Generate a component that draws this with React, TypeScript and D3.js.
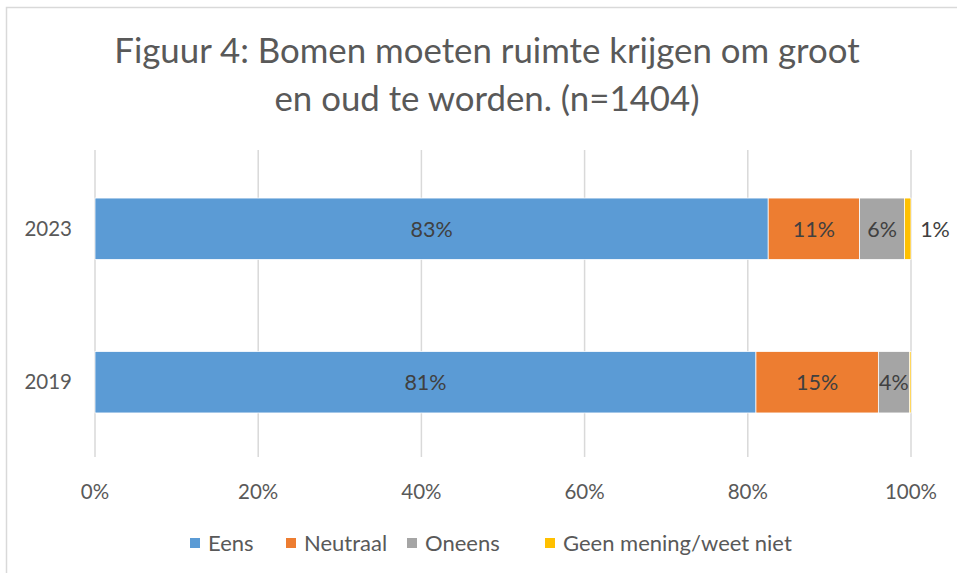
import React from "react";
import * as d3 from "d3";

const categories = ["2023", "2019"];
const seriesNames = ["Eens", "Neutraal", "Oneens", "Geen mening/weet niet"];
const eens = [82.5, 81.0];
const neutraal = [11.2, 15.0];
const oneens = [5.5, 3.8];
const geen = [0.8, 0.2];
const labelEens = ["83%", "81%"];
const labelNeutraal = ["11%", "15%"];
const labelOneens = ["6%", "4%"];
const labelGeen = ["1%", ""];
const xTicks = [0, 20, 40, 60, 80, 100];
const colors = ["#5B9BD5", "#ED7D31", "#A5A5A5", "#FFC000"];
const titleLines = ["Figuur 4: Bomen moeten ruimte krijgen om groot", "en oud te worden. (n=1404)"];

const W = 957;
const H = 573;
const FONT = "Lato, 'Open Sans', sans-serif";

export default function App() {
  const x = d3.scaleLinear().domain([0, 100]).range([95, 911]);
  const y = d3.scaleBand().domain(categories).range([152, 459]).paddingInner(0.6).paddingOuter(0.3);
  const values = [eens, neutraal, oneens, geen];
  const labels = [labelEens, labelNeutraal, labelOneens, labelGeen];

  const rows = categories.map((c, i) => {
    let acc = 0;
    return values.map((vals, s) => {
      const x0 = acc;
      acc += vals[i];
      return { c, s, x0, x1: acc, label: labels[s][i] };
    });
  });

  const legendItems = [
    { name: seriesNames[0], x: 195 },
    { name: seriesNames[1], x: 291 },
    { name: seriesNames[2], x: 412 },
    { name: seriesNames[3], x: 550 },
  ];

  return (
    <svg width={W} height={H} style={{ position: "absolute", left: 0, top: 0 }} fontFamily={FONT}>
      <rect x={0} y={0} width={W} height={H} fill="#fff" />
      <rect x={6.5} y={7.5} width={W} height={H} fill="none" stroke="#D9D9D9" strokeWidth={1.5} />
      {titleLines.map((t, i) => (
        <text key={i} x={487} y={63 + i * 48} textAnchor="middle" fontSize={34.8} fill="#595959">
          {t}
        </text>
      ))}
      {xTicks.map((t) => (
        <g key={t}>
          <line x1={x(t)} x2={x(t)} y1={150} y2={457} stroke="#D9D9D9" strokeWidth={1.5} />
          <text x={x(t)} y={499} textAnchor="middle" fontSize={20.5} fill="#595959">
            {t}%
          </text>
        </g>
      ))}
      {categories.map((c) => (
        <text key={c} x={72} y={(y(c) as number) + y.bandwidth() / 2 + 7} textAnchor="end" fontSize={20.5} fill="#595959">
          {c}
        </text>
      ))}
      {rows.map((segs, i) => (
        <g key={i}>
          {segs.map((d) => (
            <rect
              key={d.s}
              x={x(d.x0)}
              y={y(d.c)}
              width={x(d.x1) - x(d.x0)}
              height={y.bandwidth()}
              fill={colors[d.s]}
              stroke="#fff"
              strokeWidth={0.75}
            />
          ))}
          {segs.map((d) =>
            d.label ? (
              <text
                key={"l" + d.s}
                x={d.s === 3 ? x(d.x1) + 24 : (x(d.x0) + x(d.x1)) / 2}
                y={(y(d.c) as number) + y.bandwidth() / 2 + 8}
                textAnchor="middle"
                fontSize={21.5}
                fill="#404040"
              >
                {d.label}
              </text>
            ) : null
          )}
        </g>
      ))}
      {legendItems.map((it, i) => (
        <g key={i}>
          <rect x={it.x - 5} y={538} width={10} height={10} fill={colors[i]} />
          <text x={it.x + 13} y={551} fontSize={22} fill="#595959">
            {it.name}
          </text>
        </g>
      ))}
    </svg>
  );
}
